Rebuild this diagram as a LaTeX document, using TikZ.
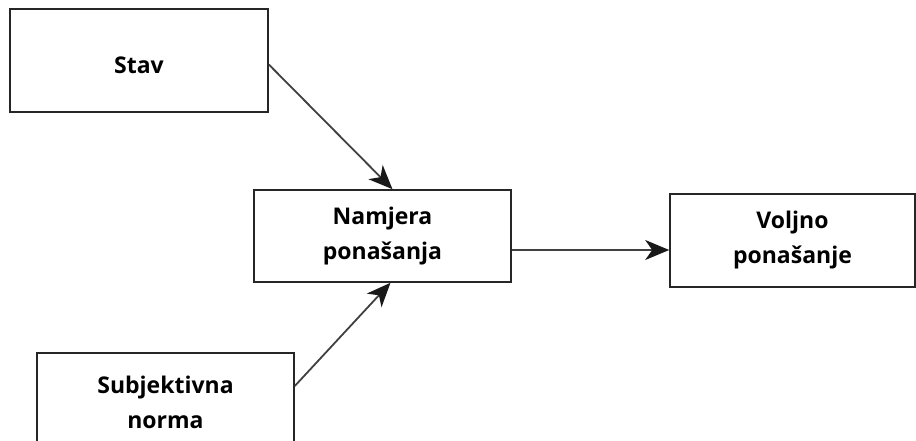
\documentclass[tikz,border=0pt]{standalone}
\usepackage{fontspec}
\setmainfont{Open Sans}
\usetikzlibrary{arrows.meta,calc}
\begin{document}
\begin{tikzpicture}[x=1pt,y=-1pt,
  box/.style={draw=black!85,line width=1.6pt,fill=white,align=center,
    font=\bfseries\fontsize{23}{35}\selectfont,inner sep=0pt},
  conn/.style={draw=black!75,line width=1.8pt,
    -{Stealth[length=24pt,width=20pt,inset=7pt,fill=black!90,color=black!90]}}]
\useasboundingbox (0,0) rectangle (916,441);
\begin{scope}
\clip (0,0) rectangle (916,441);
\node[box,minimum width=258pt,minimum height=103pt] (stav) at (139,60.5) {\raisebox{-13.5pt}[0pt][0pt]{Stav}};
\node[box,minimum width=257pt,minimum height=92pt] (namjera) at (382.5,236) {Namjera\\ponašanja};
\node[box,minimum width=245pt,minimum height=93pt] (voljno) at (792.5,240.5) {Voljno\\ponašanje};
\node[box,minimum width=257pt,minimum height=98pt] (subj) at (165.5,402) {Subjektivna\\norma};
\end{scope}
\draw[conn] ([yshift=-4pt]stav.east) -- ([xshift=10pt]namjera.north);
\draw[conn] ([yshift=16pt]subj.east) -- ([xshift=8pt]namjera.south);
\draw[conn] ([yshift=-14pt]namjera.east) -- ([yshift=-14pt]namjera.east -| voljno.west);
\end{tikzpicture}
\end{document}
